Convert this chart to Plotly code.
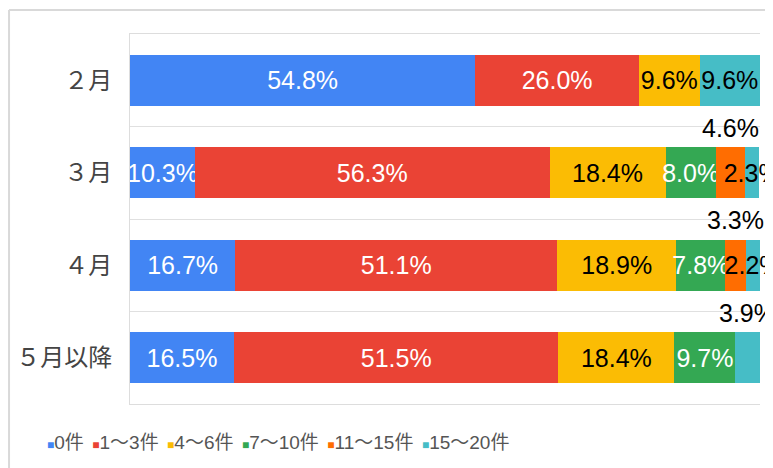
import plotly.graph_objects as go

categories = ["２月", "３月", "４月", "５月以降"]
series_names = ["0件", "1～3件", "4～6件", "7～10件", "11～15件", "15～20件"]
s_0 = [54.8, 10.3, 16.7, 16.5]
s_1_3 = [26.0, 56.3, 51.1, 51.5]
s_4_6 = [9.6, 18.4, 18.9, 18.4]
s_7_10 = [0.0, 8.0, 7.8, 9.7]
s_11_15 = [0.0, 4.6, 3.3, 0.0]
s_15_20 = [9.6, 2.3, 2.2, 3.9]
series_values = [s_0, s_1_3, s_4_6, s_7_10, s_11_15, s_15_20]

colors = ["#4285F4", "#EA4335", "#FBBC04", "#34A853", "#FF6D01", "#46BDC6"]
text_colors = ["white", "white", "black", "white", "black", "black"]
# labels Google Sheets moved above the bar
labels_above = {("３月", "11～15件"), ("４月", "11～15件"), ("５月以降", "15～20件")}

FONT = "Liberation Sans, Arial, Noto Sans CJK JP, sans-serif"
LABEL_SIZE = 25

fig = go.Figure()
annotations = []
cum = [0.0] * len(categories)
for name, vals, col, tcol in zip(series_names, series_values, colors, text_colors):
    texts = []
    for i, (cat, v) in enumerate(zip(categories, vals)):
        if v <= 0:
            texts.append("")
        elif (cat, name) in labels_above:
            texts.append("")
            annotations.append(dict(
                x=cum[i] + v / 2, y=cat, xref="x", yref="y",
                text=f"{v:.1f}%", showarrow=False, yshift=45,
                font=dict(family=FONT, size=LABEL_SIZE, color="black"),
            ))
        else:
            texts.append(f"{v:.1f}%")
        cum[i] += v
    fig.add_trace(go.Bar(
        y=categories, x=vals, name=name, orientation="h",
        marker=dict(color=col, line=dict(width=0)),
        text=texts, textposition="inside", insidetextanchor="middle",
        textangle=0, constraintext="none",
        textfont=dict(family=FONT, size=LABEL_SIZE, color=tcol),
        cliponaxis=False,
    ))

# custom legend as a single text line
legend_parts = []
for name, col in zip(series_names, colors):
    legend_parts.append(
        f'<span style="color:{col};font-size:12px">■</span>{name}'
    )
legend_text = "\u00a0\u2006".join(legend_parts)
annotations.append(dict(
    x=-0.135, y=-0.105, xref="paper", yref="paper", xanchor="left", yanchor="middle",
    text=legend_text, showarrow=False,
    font=dict(family=FONT, size=19, color="#555555"),
))

fig.update_layout(
    width=773, height=468,
    barmode="stack", bargap=0.45,
    showlegend=False,
    plot_bgcolor="white", paper_bgcolor="white",
    margin=dict(l=122, r=21, t=26, b=72, autoexpand=False),
    uniformtext=dict(minsize=LABEL_SIZE, mode="show"),
    annotations=annotations,
    shapes=[
        dict(type="line", xref="paper", yref="paper", x0=-0.192, x1=1.04, y0=1.065, y1=1.065,
             line=dict(color="#d9d9d9", width=2)),
        dict(type="line", xref="paper", yref="paper", x0=-0.192, x1=-0.192, y0=1.065, y1=-0.2,
             line=dict(color="#d9d9d9", width=2)),
    ],
)
fig.update_xaxes(range=[0, 100], showticklabels=False, showgrid=False, zeroline=False,
                 showline=True, mirror=True, linecolor="#dddddd", linewidth=1,
                 automargin=False)
fig.update_yaxes(type="category", range=[len(categories) - 0.5, -0.5], autorange=False,
                 tickson="boundaries", automargin=False,
                 showgrid=True, gridcolor="#e0e0e0", gridwidth=1,
                 showline=True, linecolor="#dddddd", linewidth=1,
                 ticks="", ticklabelstandoff=12,
                 tickfont=dict(family="Noto Sans CJK JP, sans-serif", size=24, color="#444444"))

fig.write_html("out.html")
